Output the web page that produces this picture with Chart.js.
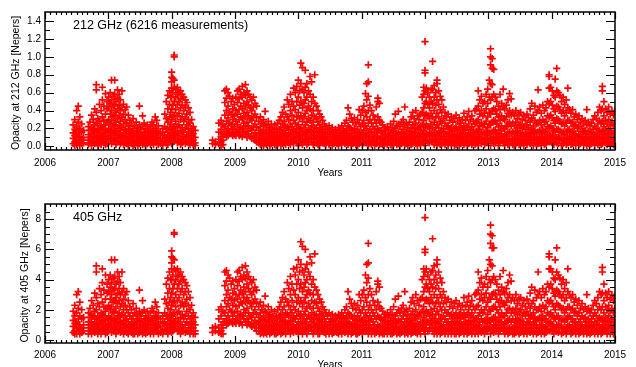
<!DOCTYPE html>
<html><head><meta charset="utf-8">
<script src="https://cdn.jsdelivr.net/npm/chart.js@4.4.1/dist/chart.umd.min.js"></script>
<style>
html,body{margin:0;padding:0;background:#fff;}
#wrap{position:relative;width:636px;height:367px;overflow:hidden;background:#fff;}
canvas{position:absolute;left:0;}
#c1{top:0;} #c2{top:185px;}
</style></head><body>
<div id="wrap"><canvas id="c1" width="636" height="185"></canvas><canvas id="c2" width="636" height="182"></canvas></div>
<script>
// ---- tick labels ----
const xTicks = [2006,2007,2008,2009,2010,2011,2012,2013,2014,2015];
const yTicks212 = [0.0,0.2,0.4,0.6,0.8,1.0,1.2,1.4];
const yTicks405 = [0,2,4,6,8];

// ---- measurements: time (decimal year), opacity columns at 212 GHz and 405 GHz ----
const time2006 = [2006.445,2006.47,2006.50,2006.525,2006.55,2006.58,2006.61,2006.685,2006.71,2006.735,2006.76,2006.785,2006.81,2006.835,2006.86,2006.885,2006.905,2006.93,2006.955,2006.98];
const tau212_2006 = [[.24,.15,.09,.03],[.30,.19,.12,.05,.01],[.40,.22,.14,.07,.02],[.45,.27,.17,.10,.04],[.33,.20,.11,.06,.01],[.25,.16,.08,.03],[.18,.10,.04],[.22,.13,.07,.02],[.27,.18,.10,.04],[.35,.21,.14,.06,.01],[.30,.19,.11,.05],[.42,.24,.16,.09,.03],[.69,.63,.38,.26,.17,.10,.04],[.31,.20,.12,.06,.01],[.47,.28,.18,.10,.04],[.40,.23,.15,.08,.02],[.66,.52,.33,.21,.13,.06],[.45,.29,.19,.11,.04],[.59,.36,.24,.15,.08,.02],[.50,.42,.27,.17,.09,.03]];
const tau405_2006 = [[1.9,1.3,0.9,0.5],[2.3,1.6,1.1,0.6,0.4],[3.0,1.8,1.2,0.8,0.4],[3.2,2.1,1.4,1.0,0.6],[2.5,1.6,1.0,0.7,0.4],[2.0,1.4,0.8,0.5],[1.5,1.0,0.6],[1.8,1.2,0.8,0.4],[2.1,1.5,1.0,0.6],[2.6,1.7,1.2,0.7,0.4],[2.3,1.6,1.0,0.6],[3.1,1.9,1.4,0.9,0.5],[4.9,4.5,2.8,2.0,1.4,1.0,0.6],[2.4,1.6,1.1,0.7,0.4],[3.4,2.2,1.5,1.0,0.6],[3.0,1.8,1.3,0.8,0.4],[4.7,3.8,2.5,1.7,1.2,0.7],[3.3,2.2,1.6,1.0,0.6],[4.3,2.7,1.9,1.3,0.8,0.4],[3.7,3.1,2.1,1.4,0.9,0.5]];

const time2007 = [2007.005,2007.03,2007.05,2007.075,2007.10,2007.12,2007.145,2007.17,2007.19,2007.215,2007.24,2007.265,2007.29,2007.315,2007.34,2007.365,2007.39,2007.415,2007.44,2007.465,2007.49,2007.515,2007.54,2007.565,2007.59,2007.615,2007.64,2007.665,2007.69,2007.715,2007.74,2007.765,2007.79,2007.825,2007.86,2007.89,2007.915,2007.94,2007.965,2007.985];
const tau212_2007 = [[.55,.44,.30,.20,.12,.05],[.60,.48,.36,.25,.16,.08],[.74,.52,.40,.29,.18,.10,.03],[.56,.45,.33,.22,.13,.06],[.74,.58,.47,.35,.24,.15,.07],[.50,.38,.27,.17,.09,.02],[.63,.54,.42,.31,.20,.12,.05],[.58,.46,.34,.23,.14,.06],[.52,.40,.28,.18,.10,.03],[.62,.44,.32,.21,.12,.05],[.47,.36,.25,.15,.08,.02],[.41,.30,.19,.11,.04],[.44,.26,.17,.09,.03],[.35,.23,.14,.07,.01],[.29,.19,.11,.05],[.25,.16,.09,.03],[.31,.20,.12,.06,.01],[.23,.14,.07,.02],[.27,.17,.10,.04],[.21,.13,.06,.01],[.45,.24,.15,.08,.03],[.19,.11,.05],[.34,.22,.13,.07,.02],[.26,.16,.09,.03],[.20,.12,.06,.01],[.24,.15,.08,.03],[.18,.11,.05],[.22,.14,.07,.02],[.27,.17,.10,.04],[.24,.15,.08,.02],[.33,.20,.12,.06],[.29,.18,.10,.04],[.23,.14,.07,.02],[.16,.09,.03],[.20,.12,.05,.01],[.36,.22,.13,.06],[.50,.31,.19,.10,.04],[.57,.42,.27,.16,.08,.02],[.62,.47,.33,.21,.12,.05],[.55,.38,.25,.15,.07]];
const tau405_2007 = [[4.0,3.2,2.3,1.6,1.1,0.6],[4.3,3.5,2.7,2.0,1.4,0.8],[5.3,3.8,3.0,2.2,1.5,1.0,0.5],[4.1,3.3,2.5,1.8,1.2,0.7],[5.3,4.2,3.4,2.6,1.9,1.3,0.8],[3.7,2.8,2.1,1.4,0.9,0.4],[4.5,3.9,3.1,2.4,1.6,1.1,0.6],[4.2,3.4,2.6,1.8,1.2,0.7],[3.8,3.0,2.2,1.5,1.0,0.5],[4.5,3.2,2.4,1.7,1.1,0.6],[3.4,2.7,2.0,1.3,0.8,0.4],[3.0,2.3,1.6,1.0,0.6],[3.2,2.0,1.4,0.9,0.5],[2.6,1.8,1.2,0.8,0.4],[2.2,1.6,1.0,0.6],[2.0,1.4,0.9,0.5],[2.4,1.6,1.1,0.7,0.4],[1.8,1.2,0.8,0.4],[2.1,1.4,1.0,0.6],[1.7,1.2,0.7,0.4],[3.3,1.9,1.3,0.8,0.5],[1.6,1.0,0.6],[2.6,1.8,1.2,0.8,0.4],[2.0,1.4,0.9,0.5],[1.6,1.1,0.7,0.4],[1.9,1.3,0.8,0.5],[1.5,1.0,0.6],[1.8,1.2,0.8,0.4],[2.1,1.4,1.0,0.6],[1.9,1.3,0.8,0.4],[2.5,1.6,1.1,0.7],[2.2,1.5,1.0,0.6],[1.8,1.2,0.8,0.4],[1.4,0.9,0.5],[1.6,1.1,0.6,0.4],[2.7,1.8,1.2,0.7],[3.7,2.4,1.6,1.0,0.6],[4.1,3.1,2.1,1.4,0.8,0.4],[4.5,3.4,2.5,1.7,1.1,0.6],[4.0,2.8,2.0,1.3,0.8]];

const time2008 = [2008.00,2008.02,2008.04,2008.065,2008.09,2008.115,2008.14,2008.165,2008.19,2008.215,2008.24,2008.265,2008.29,2008.315,2008.34,2008.37,2008.645,2008.69,2008.745,2008.78,2008.81,2008.84,2008.865,2008.89,2008.915,2008.94,2008.965,2008.99];
const tau212_2008 = [[.83,.77,.72,.65,.55,.42,.30,.19,.10,.03],[.76,.60,.46,.33,.21,.12,.05],[1.02,1.00,.74,.66,.50,.35,.22,.13,.06],[.64,.55,.41,.28,.17,.09],[.66,.58,.47,.34,.22,.12,.04],[.60,.50,.37,.24,.14,.06],[.62,.53,.43,.30,.18,.08,.02],[.58,.46,.33,.21,.11,.04],[.55,.40,.28,.16,.07],[.52,.44,.31,.19,.10,.03],[.49,.36,.24,.13,.05],[.43,.30,.20,.11,.04],[.38,.26,.16,.08,.02],[.30,.20,.12,.05],[.22,.14,.07,.02],[.18,.10,.04,.01],[.07,.03],[.05,.02],[.26,.16,.08,.03],[.29,.19,.11,.05,.01],[.24,.14,.07,.02],[.62,.49,.35,.22,.13],[.64,.54,.40,.28,.17,.11],[.60,.45,.32,.20,.12],[.56,.38,.26,.15],[.50,.36,.24,.14],[.54,.42,.30,.19,.12],[.47,.34,.22,.13]];
const tau405_2008 = [[5.9,5.5,5.1,4.7,4.0,3.1,2.3,1.6,1.0,0.5],[5.4,4.3,3.4,2.5,1.7,1.1,0.6],[7.1,7.0,5.3,4.7,3.7,2.6,1.8,1.2,0.7],[4.6,4.0,3.0,2.2,1.4,0.9],[4.7,4.2,3.4,2.6,1.8,1.1,0.6],[4.3,3.7,2.8,1.9,1.2,0.7],[4.5,3.9,3.2,2.3,1.5,0.8,0.4],[4.2,3.4,2.5,1.7,1.0,0.6],[4.0,3.0,2.2,1.4,0.8],[3.8,3.2,2.4,1.6,1.0,0.5],[3.6,2.7,1.9,1.2,0.6],[3.2,2.3,1.6,1.0,0.6],[2.8,2.0,1.4,0.8,0.4],[2.3,1.6,1.1,0.6],[1.8,1.2,0.8,0.4],[1.5,1.0,0.6,0.4],[0.8,0.5],[0.9,0.6],[2.0,1.4,0.8,0.5],[2.2,1.6,1.0,0.6,0.4],[1.9,1.2,0.8,0.4],[4.5,3.6,2.6,1.8,1.2],[4.6,3.9,3.0,2.2,1.4,1.0],[4.3,3.3,2.4,1.6,1.1],[4.1,2.8,2.0,1.3],[3.7,2.7,1.9,1.2],[3.9,3.1,2.3,1.6,1.1],[3.4,2.6,1.8,1.2]];

const time2009 = [2009.015,2009.04,2009.065,2009.09,2009.115,2009.14,2009.165,2009.19,2009.215,2009.24,2009.265,2009.29,2009.315,2009.34,2009.375,2009.40,2009.425,2009.45,2009.475,2009.50,2009.525,2009.55,2009.575,2009.60,2009.625,2009.65,2009.675,2009.70,2009.725,2009.75,2009.775,2009.80,2009.825,2009.85,2009.875,2009.90,2009.925,2009.95,2009.975];
const tau212_2009 = [[.55,.40,.28,.17,.12],[.62,.49,.36,.24,.15],[.64,.53,.41,.30,.19,.12],[.58,.45,.33,.21,.13],[.67,.55,.42,.31,.20,.11],[.60,.48,.37,.26,.16],[.69,.57,.44,.33,.22,.13],[.62,.50,.38,.27,.17,.10],[.58,.46,.34,.23,.14],[.55,.43,.31,.20,.11],[.52,.40,.29,.18,.09],[.55,.44,.33,.22,.12],[.48,.36,.25,.15,.07],[.45,.32,.21,.12,.05],[.28,.18,.10,.04],[.33,.22,.14,.07,.02],[.26,.16,.09,.03],[.30,.19,.11,.05,.01],[.39,.24,.15,.08,.03],[.23,.14,.07,.02],[.28,.18,.10,.04],[.21,.13,.06,.01],[.25,.16,.09,.03],[.19,.11,.05],[.24,.15,.08,.02],[.20,.12,.06,.01],[.26,.16,.09,.03],[.29,.19,.11,.05],[.33,.21,.13,.06,.01],[.38,.25,.15,.08,.03],[.44,.28,.18,.10,.04],[.36,.23,.14,.07,.02],[.52,.33,.21,.12,.05],[.47,.30,.19,.11,.04],[.58,.40,.25,.15,.07,.02],[.50,.35,.22,.13,.06],[.65,.45,.29,.18,.09,.03],[.60,.41,.26,.16,.08],[.67,.50,.33,.20,.11,.04]];
const tau405_2009 = [[4.0,3.0,2.2,1.4,1.1],[4.5,3.6,2.7,1.9,1.3],[4.6,3.9,3.0,2.3,1.6,1.1],[4.2,3.3,2.5,1.7,1.2],[4.8,4.0,3.1,2.4,1.6,1.0],[4.3,3.5,2.8,2.0,1.4],[4.9,4.1,3.2,2.5,1.8,1.2],[4.5,3.7,2.8,2.1,1.4,1.0],[4.2,3.4,2.6,1.8,1.2],[4.0,3.2,2.4,1.6,1.0],[3.8,3.0,2.2,1.5,0.9],[4.0,3.2,2.5,1.8,1.1],[3.5,2.7,2.0,1.3,0.8],[3.3,2.4,1.7,1.1,0.6],[2.2,1.5,1.0,0.6],[2.5,1.8,1.2,0.8,0.4],[2.0,1.4,0.9,0.5],[2.3,1.6,1.0,0.6,0.4],[2.9,1.9,1.3,0.8,0.5],[1.8,1.2,0.8,0.4],[2.2,1.5,1.0,0.6],[1.7,1.2,0.7,0.4],[2.0,1.4,0.9,0.5],[1.6,1.0,0.6],[1.9,1.3,0.8,0.4],[1.6,1.1,0.7,0.4],[2.0,1.4,0.9,0.5],[2.2,1.6,1.0,0.6],[2.5,1.7,1.2,0.7,0.4],[2.8,2.0,1.3,0.8,0.5],[3.2,2.2,1.5,1.0,0.6],[2.7,1.8,1.2,0.8,0.4],[3.8,2.5,1.7,1.1,0.6],[3.4,2.3,1.6,1.0,0.6],[4.2,3.0,2.0,1.3,0.8,0.4],[3.7,2.6,1.8,1.2,0.7],[4.7,3.3,2.2,1.5,0.9,0.5],[4.3,3.0,2.0,1.4,0.8],[4.8,3.7,2.5,1.6,1.0,0.6]];

const time2010 = [2010.00,2010.02,2010.04,2010.065,2010.09,2010.11,2010.135,2010.16,2010.185,2010.21,2010.235,2010.26,2010.285,2010.31,2010.335,2010.36,2010.385,2010.41,2010.435,2010.46,2010.485,2010.51,2010.535,2010.56,2010.585,2010.61,2010.635,2010.66,2010.685,2010.71,2010.735,2010.76,2010.785,2010.81,2010.835,2010.86,2010.885,2010.91,2010.935,2010.96,2010.985];
const tau212_2010 = [[.74,.55,.38,.24,.14,.06,.01],[.62,.46,.31,.19,.10,.04],[.93,.70,.50,.34,.21,.12,.05],[.88,.64,.43,.28,.17,.08,.02],[.60,.48,.33,.21,.12,.05],[.85,.66,.52,.37,.24,.14,.06],[.70,.55,.40,.27,.16,.08,.02],[.62,.45,.31,.19,.10,.04],[.78,.58,.42,.29,.18,.09],[.72,.50,.35,.23,.13,.05],[.55,.40,.27,.16,.08,.02],[.80,.48,.33,.21,.12,.04],[.45,.31,.20,.11,.04],[.40,.27,.17,.09,.02],[.36,.24,.15,.07,.01],[.33,.21,.13,.06],[.29,.19,.11,.04],[.25,.16,.09,.03],[.22,.14,.07,.02],[.19,.11,.05],[.23,.14,.07,.02],[.17,.10,.04],[.21,.13,.06,.01],[.15,.08,.03],[.19,.11,.05],[.16,.09,.03],[.21,.12,.06,.01],[.18,.10,.04],[.23,.14,.07,.02],[.20,.12,.05],[.26,.16,.09,.03],[.29,.18,.10,.04],[.43,.23,.14,.07,.02],[.36,.21,.12,.05],[.31,.19,.11,.04,.01],[.27,.17,.09,.03],[.32,.20,.12,.06],[.25,.15,.08,.02],[.30,.19,.11,.05,.01],[.41,.26,.16,.09,.03],[.35,.22,.13,.06]];
const tau405_2010 = [[5.3,4.0,2.8,1.9,1.2,0.7,0.4],[4.5,3.4,2.4,1.6,1.0,0.6],[6.5,5.0,3.7,2.6,1.7,1.1,0.6],[6.2,4.6,3.2,2.2,1.4,0.8,0.4],[4.3,3.5,2.5,1.7,1.1,0.6],[6.0,4.7,3.8,2.8,1.9,1.2,0.7],[5.0,4.0,3.0,2.1,1.4,0.8,0.4],[4.5,3.3,2.4,1.6,1.0,0.6],[5.5,4.2,3.1,2.2,1.5,0.9],[5.1,3.7,2.6,1.8,1.2,0.6],[4.0,3.0,2.1,1.4,0.8,0.4],[5.7,3.5,2.5,1.7,1.1,0.6],[3.3,2.4,1.6,1.0,0.6],[3.0,2.1,1.4,0.9,0.4],[2.7,1.9,1.3,0.8,0.4],[2.5,1.7,1.2,0.7],[2.2,1.6,1.0,0.6],[2.0,1.4,0.9,0.5],[1.8,1.2,0.8,0.4],[1.6,1.0,0.6],[1.8,1.2,0.8,0.4],[1.4,1.0,0.6],[1.7,1.2,0.7,0.4],[1.3,0.8,0.5],[1.6,1.0,0.6],[1.4,0.9,0.5],[1.7,1.1,0.7,0.4],[1.5,1.0,0.6],[1.8,1.2,0.8,0.4],[1.6,1.1,0.6],[2.0,1.4,0.9,0.5],[2.2,1.5,1.0,0.6],[3.2,1.8,1.2,0.8,0.4],[2.7,1.7,1.1,0.6],[2.4,1.6,1.0,0.6,0.4],[2.1,1.4,0.9,0.5],[2.4,1.6,1.1,0.7],[2.0,1.3,0.8,0.4],[2.3,1.6,1.0,0.6,0.4],[3.0,2.0,1.4,0.9,0.5],[2.6,1.8,1.2,0.7]];

const time2011 = [2011.01,2011.035,2011.06,2011.08,2011.105,2011.13,2011.155,2011.18,2011.205,2011.23,2011.255,2011.28,2011.305,2011.33,2011.355,2011.38,2011.405,2011.43,2011.455,2011.48,2011.505,2011.53,2011.555,2011.58,2011.605,2011.63,2011.655,2011.68,2011.705,2011.73,2011.755,2011.78,2011.805,2011.83,2011.855,2011.88,2011.905,2011.93,2011.955,2011.98];
const tau212_2011 = [[.40,.25,.15,.08,.02],[.45,.29,.18,.10,.04],[.59,.38,.23,.13,.06],[.70,.52,.33,.20,.11,.04],[.91,.72,.56,.40,.26,.15,.07,.01],[.46,.30,.19,.10,.04],[.40,.26,.16,.08,.02],[.35,.22,.13,.06],[.30,.19,.11,.04,.01],[.44,.26,.16,.08,.03],[.54,.50,.33,.20,.11,.04],[.48,.29,.18,.09,.02],[.27,.17,.09,.03],[.24,.15,.08,.02],[.21,.13,.06,.01],[.18,.10,.04],[.22,.13,.06,.02],[.19,.11,.05],[.25,.15,.08,.02],[.21,.12,.06,.01],[.28,.17,.09,.03],[.36,.20,.12,.05],[.23,.14,.07,.02],[.39,.25,.15,.08,.03],[.22,.13,.06,.01],[.27,.16,.09,.03],[.30,.19,.11,.05],[.44,.24,.14,.07,.02],[.26,.16,.09,.03],[.21,.13,.06,.01],[.27,.17,.10,.04],[.33,.21,.12,.06,.02],[.38,.24,.15,.08,.03],[.31,.20,.11,.05],[.40,.26,.16,.09,.03],[.34,.21,.12,.06,.01],[.30,.19,.11,.04],[.36,.23,.14,.07,.02],[.55,.38,.24,.14,.07],[.66,.58,.43,.29,.18,.10,.04]];
const tau405_2011 = [[3.0,2.0,1.3,0.8,0.4],[3.3,2.2,1.5,1.0,0.6],[4.3,2.8,1.8,1.2,0.7],[5.0,3.8,2.5,1.6,1.0,0.6],[6.4,5.1,4.1,3.0,2.0,1.3,0.8,0.4],[3.4,2.3,1.6,1.0,0.6],[3.0,2.0,1.4,0.8,0.4],[2.6,1.8,1.2,0.7],[2.3,1.6,1.0,0.6,0.4],[3.2,2.0,1.4,0.8,0.5],[3.9,3.7,2.5,1.6,1.0,0.6],[3.5,2.2,1.5,0.9,0.4],[2.1,1.4,0.9,0.5],[1.9,1.3,0.8,0.4],[1.7,1.2,0.7,0.4],[1.5,1.0,0.6],[1.8,1.2,0.7,0.4],[1.6,1.0,0.6],[2.0,1.3,0.8,0.4],[1.7,1.1,0.7,0.4],[2.2,1.4,0.9,0.5],[2.7,1.6,1.1,0.6],[1.8,1.2,0.8,0.4],[2.9,2.0,1.3,0.8,0.5],[1.8,1.2,0.7,0.4],[2.1,1.4,0.9,0.5],[2.3,1.6,1.0,0.6],[3.2,1.9,1.2,0.8,0.4],[2.0,1.4,0.9,0.5],[1.7,1.2,0.7,0.4],[2.1,1.4,1.0,0.6],[2.5,1.7,1.1,0.7,0.4],[2.8,1.9,1.3,0.8,0.5],[2.4,1.6,1.0,0.6],[3.0,2.0,1.4,0.9,0.5],[2.6,1.7,1.1,0.7,0.4],[2.3,1.6,1.0,0.6],[2.7,1.8,1.2,0.8,0.4],[4.0,2.8,1.9,1.2,0.8],[4.7,4.2,3.2,2.2,1.5,1.0,0.6]];

const time2012 = [2012.00,2012.02,2012.045,2012.07,2012.095,2012.12,2012.145,2012.17,2012.19,2012.215,2012.24,2012.265,2012.29,2012.315,2012.34,2012.365,2012.39,2012.415,2012.44,2012.465,2012.49,2012.515,2012.54,2012.565,2012.59,2012.615,2012.64,2012.665,2012.69,2012.715,2012.74,2012.765,2012.79,2012.815,2012.84,2012.865,2012.89,2012.915,2012.94,2012.965,2012.99];
const tau212_2012 = [[1.17,.85,.82,.62,.48,.34,.22,.13,.06,.01],[.65,.50,.36,.24,.14,.07],[.60,.47,.34,.22,.13,.05],[.55,.43,.31,.20,.11,.04],[.63,.50,.37,.25,.15,.07],[.95,.64,.48,.33,.21,.12,.05],[.68,.55,.40,.27,.16,.08,.02],[.60,.46,.32,.21,.12,.05],[.74,.70,.52,.37,.24,.14,.06,.01],[.62,.47,.33,.21,.12,.04],[.56,.41,.28,.17,.09,.02],[.52,.38,.26,.16,.08,.03],[.44,.31,.20,.11,.04],[.38,.26,.16,.08,.02],[.33,.22,.13,.06],[.36,.23,.14,.07,.01],[.29,.19,.11,.05],[.33,.21,.12,.06,.02],[.27,.17,.10,.04],[.31,.20,.12,.05,.01],[.35,.22,.13,.07,.02],[.28,.18,.10,.04],[.32,.21,.12,.06,.01],[.26,.16,.09,.03],[.30,.19,.11,.05],[.37,.23,.14,.07,.02],[.29,.18,.10,.04],[.33,.21,.12,.06,.01],[.39,.25,.15,.08,.03],[.30,.19,.11,.05],[.34,.22,.13,.06,.02],[.28,.18,.10,.04],[.40,.25,.15,.08,.02],[.42,.28,.17,.09,.04],[.62,.45,.30,.19,.11,.05,.01],[.52,.36,.23,.14,.07],[.56,.40,.26,.16,.08,.03],[.48,.34,.22,.13,.06],[.50,.37,.25,.15,.08,.02],[.58,.42,.28,.17,.09,.04],[.64,.48,.33,.21,.12,.05]];
const tau405_2012 = [[8.1,6.0,5.8,4.5,3.5,2.6,1.8,1.2,0.7,0.4],[4.7,3.7,2.7,1.9,1.2,0.8],[4.3,3.4,2.6,1.8,1.2,0.6],[4.0,3.2,2.4,1.6,1.0,0.6],[4.5,3.7,2.8,2.0,1.3,0.8],[6.7,4.6,3.5,2.5,1.7,1.1,0.6],[4.9,4.0,3.0,2.1,1.4,0.8,0.4],[4.3,3.4,2.4,1.7,1.1,0.6],[5.3,5.0,3.8,2.8,1.9,1.2,0.7,0.4],[4.5,3.4,2.5,1.7,1.1,0.6],[4.1,3.0,2.2,1.4,0.9,0.4],[3.8,2.8,2.0,1.4,0.8,0.5],[3.2,2.4,1.6,1.0,0.6],[2.8,2.0,1.4,0.8,0.4],[2.5,1.8,1.2,0.7],[2.7,1.8,1.2,0.8,0.4],[2.2,1.6,1.0,0.6],[2.5,1.7,1.1,0.7,0.4],[2.1,1.4,1.0,0.6],[2.4,1.6,1.1,0.6,0.4],[2.6,1.8,1.2,0.8,0.4],[2.2,1.5,1.0,0.6],[2.4,1.7,1.1,0.7,0.4],[2.0,1.4,0.9,0.5],[2.3,1.6,1.0,0.6],[2.8,1.8,1.2,0.8,0.4],[2.2,1.5,1.0,0.6],[2.5,1.7,1.1,0.7,0.4],[2.9,2.0,1.3,0.8,0.5],[2.3,1.6,1.0,0.6],[2.6,1.8,1.2,0.7,0.4],[2.2,1.5,1.0,0.6],[3.0,2.0,1.3,0.8,0.4],[3.1,2.2,1.4,0.9,0.6],[4.5,3.3,2.3,1.6,1.0,0.6,0.4],[3.8,2.7,1.8,1.2,0.8],[4.1,3.0,2.0,1.4,0.8,0.5],[3.5,2.6,1.8,1.2,0.7],[3.7,2.8,2.0,1.3,0.8,0.4],[4.2,3.1,2.2,1.4,0.9,0.6],[4.6,3.5,2.5,1.7,1.1,0.6]];

const time2013 = [2013.015,2013.035,2013.06,2013.085,2013.11,2013.135,2013.16,2013.185,2013.21,2013.235,2013.26,2013.285,2013.31,2013.335,2013.36,2013.385,2013.41,2013.435,2013.46,2013.485,2013.51,2013.535,2013.56,2013.585,2013.61,2013.635,2013.66,2013.685,2013.71,2013.735,2013.76,2013.785,2013.81,2013.835,2013.86,2013.885,2013.91,2013.935,2013.96,2013.985];
const tau212_2013 = [[.74,.55,.38,.25,.15,.07],[1.09,1.00,.91,.70,.52,.36,.24,.14,.06,.01],[.98,.87,.69,.55,.40,.27,.16,.08],[.86,.58,.42,.29,.18,.10,.03],[.55,.40,.28,.18,.10,.04],[.50,.36,.25,.15,.08],[.45,.33,.22,.13,.06,.01],[.58,.41,.29,.18,.10,.04],[.48,.34,.23,.14,.07],[.64,.44,.31,.20,.11,.04],[.42,.30,.20,.12,.05,.01],[.46,.33,.22,.13,.06],[.52,.37,.25,.15,.08,.02],[.59,.40,.27,.16,.08,.03],[.53,.35,.23,.14,.06],[.38,.26,.16,.08,.02],[.34,.23,.14,.07,.01],[.40,.27,.17,.09,.03],[.31,.21,.12,.05],[.36,.24,.15,.07,.02],[.38,.25,.15,.08,.03],[.30,.20,.11,.04],[.34,.22,.13,.06,.01],[.29,.19,.11,.05],[.36,.24,.14,.07,.02],[.32,.21,.12,.05],[.42,.27,.16,.08,.03],[.48,.31,.19,.10,.04],[.35,.23,.14,.07,.01],[.45,.29,.18,.10,.04],[.38,.25,.15,.08,.02],[.63,.40,.26,.16,.08,.03],[.44,.29,.18,.10,.04],[.37,.24,.15,.07,.01],[.46,.30,.19,.11,.05],[.40,.27,.16,.08,.02],[.43,.28,.17,.09,.03],[.50,.34,.22,.13,.06],[.80,.78,.65,.48,.33,.21,.12,.05],[.66,.50,.35,.23,.13,.06]];
const tau405_2013 = [[5.3,4.0,2.8,2.0,1.3,0.8],[7.6,7.0,6.4,5.0,3.8,2.7,1.9,1.2,0.7,0.4],[6.9,6.1,4.9,4.0,3.0,2.1,1.4,0.8],[6.1,4.2,3.1,2.2,1.5,1.0,0.5],[4.0,3.0,2.2,1.5,1.0,0.6],[3.7,2.7,2.0,1.3,0.8],[3.3,2.5,1.8,1.2,0.7,0.4],[4.2,3.0,2.2,1.5,1.0,0.6],[3.5,2.6,1.8,1.2,0.8],[4.6,3.2,2.4,1.6,1.0,0.6],[3.1,2.3,1.6,1.1,0.6,0.4],[3.4,2.5,1.8,1.2,0.7],[3.8,2.8,2.0,1.3,0.8,0.4],[4.3,3.0,2.1,1.4,0.8,0.5],[3.9,2.6,1.8,1.2,0.7],[2.8,2.0,1.4,0.8,0.4],[2.6,1.8,1.2,0.8,0.4],[3.0,2.1,1.4,0.9,0.5],[2.4,1.7,1.1,0.6],[2.7,1.9,1.3,0.8,0.4],[2.8,2.0,1.3,0.8,0.5],[2.3,1.6,1.0,0.6],[2.6,1.8,1.2,0.7,0.4],[2.2,1.6,1.0,0.6],[2.7,1.9,1.2,0.8,0.4],[2.4,1.7,1.1,0.6],[3.1,2.1,1.4,0.8,0.5],[3.5,2.4,1.6,1.0,0.6],[2.6,1.8,1.2,0.8,0.4],[3.3,2.2,1.5,1.0,0.6],[2.8,2.0,1.3,0.8,0.4],[4.5,3.0,2.0,1.4,0.8,0.5],[3.2,2.2,1.5,1.0,0.6],[2.8,1.9,1.3,0.8,0.4],[3.4,2.3,1.6,1.0,0.6],[3.0,2.1,1.4,0.8,0.4],[3.2,2.2,1.4,0.9,0.5],[3.7,2.6,1.8,1.2,0.7],[5.7,5.5,4.7,3.5,2.5,1.7,1.1,0.6],[4.7,3.7,2.6,1.8,1.2,0.7]];

const time2014 = [2014.01,2014.035,2014.055,2014.08,2014.105,2014.13,2014.155,2014.18,2014.205,2014.23,2014.255,2014.28,2014.305,2014.33,2014.355,2014.38,2014.405,2014.43,2014.455,2014.48,2014.505,2014.53,2014.555,2014.58,2014.605,2014.63,2014.655,2014.68,2014.705,2014.73,2014.755,2014.78,2014.80,2014.825,2014.85,2014.875,2014.90,2014.925,2014.95,2014.975,2014.995];
const tau212_2014 = [[.62,.46,.32,.20,.11,.04],[.57,.42,.29,.18,.09,.02],[.75,.55,.39,.26,.16,.08],[.87,.62,.45,.31,.19,.10,.04],[.60,.44,.30,.19,.10,.03],[.57,.41,.28,.17,.09],[.50,.37,.25,.15,.07,.01],[.55,.40,.27,.16,.08,.03],[.47,.34,.23,.13,.06],[.52,.38,.26,.16,.08,.02],[.65,.43,.29,.18,.09,.04],[.41,.29,.19,.11,.05],[.37,.26,.16,.08,.02],[.41,.27,.17,.09,.03],[.33,.22,.13,.06],[.36,.24,.14,.07,.01],[.30,.20,.11,.05],[.34,.22,.13,.06,.02],[.27,.17,.09,.03],[.31,.20,.11,.05],[.25,.16,.08,.02],[.29,.18,.10,.04],[.41,.24,.14,.07,.01],[.27,.17,.09,.03],[.23,.14,.07,.02],[.26,.16,.09,.03],[.30,.19,.11,.05],[.34,.22,.13,.06,.01],[.31,.20,.11,.05],[.38,.25,.15,.08,.02],[.44,.29,.18,.10,.04],[.40,.26,.16,.08,.02],[.67,.62,.42,.28,.17,.09,.03],[.50,.34,.22,.13,.06],[.42,.29,.18,.10,.04],[.38,.25,.15,.08,.02],[.44,.30,.19,.11,.05],[.36,.24,.14,.07,.01],[.40,.27,.17,.09,.04],[.35,.23,.14,.07,.02],[.39,.26,.16,.09,.03]];
const tau405_2014 = [[4.5,3.4,2.4,1.6,1.0,0.6],[4.1,3.1,2.2,1.5,0.9,0.4],[5.3,4.0,2.9,2.0,1.4,0.8],[6.1,4.5,3.3,2.4,1.6,1.0,0.6],[4.3,3.2,2.3,1.6,1.0,0.5],[4.1,3.0,2.2,1.4,0.9],[3.7,2.8,2.0,1.3,0.8,0.4],[4.0,3.0,2.1,1.4,0.8,0.5],[3.4,2.6,1.8,1.2,0.7],[3.8,2.8,2.0,1.4,0.8,0.4],[4.7,3.2,2.2,1.5,0.9,0.6],[3.0,2.2,1.6,1.0,0.6],[2.8,2.0,1.4,0.8,0.4],[3.0,2.1,1.4,0.9,0.5],[2.5,1.8,1.2,0.7],[2.7,1.9,1.2,0.8,0.4],[2.3,1.6,1.0,0.6],[2.6,1.8,1.2,0.7,0.4],[2.1,1.4,0.9,0.5],[2.4,1.6,1.0,0.6],[2.0,1.4,0.8,0.4],[2.2,1.5,1.0,0.6],[3.0,1.9,1.2,0.8,0.4],[2.1,1.4,0.9,0.5],[1.8,1.2,0.8,0.4],[2.0,1.4,0.9,0.5],[2.3,1.6,1.0,0.6],[2.6,1.8,1.2,0.7,0.4],[2.4,1.6,1.0,0.6],[2.8,2.0,1.3,0.8,0.4],[3.2,2.2,1.5,1.0,0.6],[3.0,2.0,1.4,0.8,0.4],[4.8,4.5,3.1,2.2,1.4,0.9,0.5],[3.7,2.6,1.8,1.2,0.7],[3.1,2.2,1.5,1.0,0.6],[2.8,2.0,1.3,0.8,0.4],[3.2,2.3,1.6,1.0,0.6],[2.7,1.9,1.2,0.8,0.4],[3.0,2.1,1.4,0.9,0.6],[2.6,1.8,1.2,0.8,0.4],[2.9,2.0,1.4,0.9,0.5]];

const seasons = [
  [time2006, tau212_2006, tau405_2006],
  [time2007, tau212_2007, tau405_2007],
  [time2008, tau212_2008, tau405_2008],
  [time2009, tau212_2009, tau405_2009],
  [time2010, tau212_2010, tau405_2010],
  [time2011, tau212_2011, tau405_2011],
  [time2012, tau212_2012, tau405_2012],
  [time2013, tau212_2013, tau405_2013],
  [time2014, tau212_2014, tau405_2014]
];

function buildPoints(idx) {
  const out = [];
  seasons.forEach(s => {
    const t = s[0], vals = s[idx];
    t.forEach((tt, i) => (vals[i] || []).forEach(v => out.push({x: tt, y: v})));
  });
  return out;
}

Chart.defaults.font.family = "'Liberation Sans', Arial, sans-serif";
Chart.defaults.font.size = 10;
Chart.defaults.color = '#000';

const idlFrame = {
  id: 'idlFrame',
  afterDatasetsDraw(chart, args, o) {
    const {ctx, chartArea: a} = chart;
    const xs = chart.scales.x, ys = chart.scales.y;
    ctx.save();
    ctx.strokeStyle = '#000';
    ctx.lineWidth = 1.2;
    ctx.beginPath();
    for (let m = 0; m <= 108; m++) {
      const px = Math.round(xs.getPixelForValue(2006 + m / 12)) + 0.5;
      const len = (m % 12 === 0) ? 7 : 3;
      ctx.moveTo(px, a.bottom); ctx.lineTo(px, a.bottom - len);
      ctx.moveTo(px, a.top); ctx.lineTo(px, a.top + len);
    }
    for (let k = 0; k <= o.nMinor; k++) {
      const py = Math.round(ys.getPixelForValue(k * o.minorStep)) + 0.5;
      if (py < a.top + 1) continue;
      const len = (k % o.majorEvery === 0) ? 9 : 5;
      ctx.moveTo(a.left, py); ctx.lineTo(a.left + len, py);
      ctx.moveTo(a.right, py); ctx.lineTo(a.right - len, py);
    }
    ctx.stroke();
    ctx.lineWidth = 1.5;
    ctx.strokeRect(a.left, a.top, a.right - a.left, a.bottom - a.top);
    ctx.fillStyle = '#000';
    ctx.textBaseline = 'middle';
    ctx.textAlign = 'left';
    ctx.font = "12.5px 'Liberation Sans', Arial, sans-serif";
    ctx.fillText(o.label, a.left + 28, a.top + 14);
    ctx.font = "10px 'Liberation Sans', Arial, sans-serif";
    ctx.textAlign = 'center';
    ctx.fillText('Years', (a.left + a.right) / 2, a.bottom + o.yearsDy);
    ctx.save();
    ctx.translate(o.titleX, (a.top + a.bottom) / 2 + 2);
    ctx.rotate(-Math.PI / 2);
    ctx.font = "10.5px 'Liberation Sans', Arial, sans-serif";
    ctx.fillText(o.yTitle, 0, 0);
    ctx.restore();
    ctx.restore();
  }
};

function makeChart(id, idx, yMin, yMax, yTicks, fmt, padTop, xAxisH, labelPad, frameOpts) {
  return new Chart(document.getElementById(id), {
    type: 'scatter',
    data: { datasets: [{
      data: buildPoints(idx),
      pointStyle: 'cross',
      pointRadius: 3.6,
      pointBorderWidth: 1.7,
      borderColor: '#ff0000',
      backgroundColor: '#ff0000'
    }]},
    options: {
      responsive: false,
      animation: false,
      events: [],
      layout: { padding: { top: padTop, right: 21, left: 0, bottom: 0 } },
      plugins: { legend: { display: false }, tooltip: { enabled: false }, idlFrame: frameOpts },
      scales: {
        x: {
          type: 'linear', min: 2006, max: 2015,
          grid: { display: false, drawTicks: false }, border: { display: false },
          afterBuildTicks: s => { s.ticks = xTicks.map(v => ({ value: v })); },
          afterFit: s => { s.height = xAxisH; },
          ticks: { autoSkip: false, maxRotation: 0, padding: labelPad, callback: v => String(v), font: { size: 10 } }
        },
        y: {
          type: 'linear', min: yMin, max: yMax,
          grid: { display: false, drawTicks: false }, border: { display: false },
          afterBuildTicks: s => { s.ticks = yTicks.map(v => ({ value: v })); },
          afterFit: s => { s.width = 45; },
          ticks: { autoSkip: false, padding: 4, callback: fmt, font: { size: 10 } }
        }
      }
    },
    plugins: [idlFrame]
  });
}

makeChart('c1', 1, -0.04, 1.5, yTicks212, v => v.toFixed(1), 12, 35, 7,
  { label: '212 GHz (6216 measurements)', yTitle: 'Opacity at 212 GHz [Nepers]', titleX: 16, yearsDy: 23, minorStep: 0.1, nMinor: 15, majorEvery: 2 });
makeChart('c2', 2, -0.2, 9, yTicks405, v => String(v), 19, 24, 6,
  { label: '405 GHz', yTitle: 'Opacity at 405 GHz [Nepers]', titleX: 25, yearsDy: 22, minorStep: 0.5, nMinor: 18, majorEvery: 4 });
</script>
</body></html>
